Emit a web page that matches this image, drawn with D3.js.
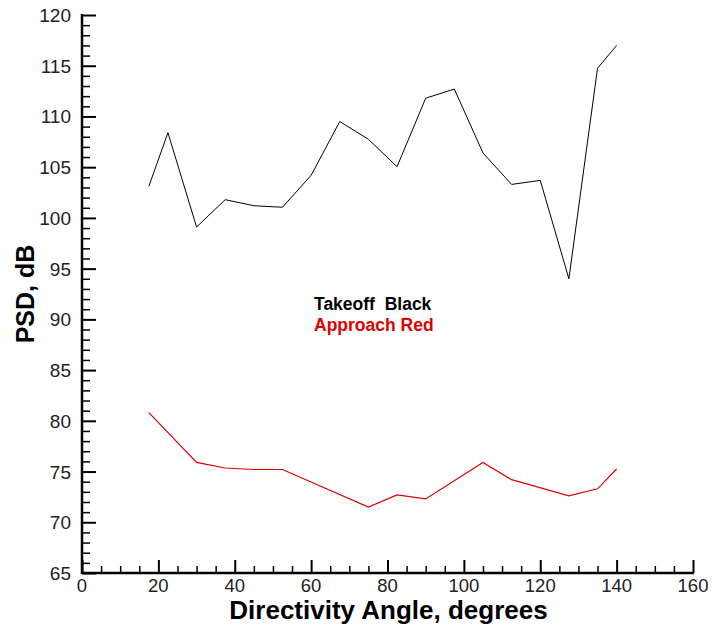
<!DOCTYPE html>
<html>
<head>
<meta charset="utf-8">
<script src="https://cdn.jsdelivr.net/npm/d3@7"></script>
<style>
  html, body { margin: 0; padding: 0; background: #fff; }
  svg { display: block; }
</style>
</head>
<body>
<svg id="chart" width="712" height="626"></svg>
<script>
// Directivity angles (degrees) for each measured point
const takeoffAngles  = [17.5, 22.5, 30, 37.5, 45, 52.5, 60, 67.5, 75, 82.5, 90, 97.5, 105, 112.5, 120, 127.5, 135, 140];
const takeoffPSD     = [103.1, 108.4, 99.1, 101.8, 101.2, 101.05, 104.2, 109.5, 107.75, 105.05, 111.8, 112.7, 106.4, 103.3, 103.7, 94.0, 114.75, 117.0];
const approachAngles = [17.5, 30, 37.5, 45, 52.5, 75, 82.5, 90, 105, 112.5, 127.5, 135, 140];
const approachPSD    = [80.8, 75.9, 75.35, 75.2, 75.2, 71.5, 72.7, 72.3, 75.9, 74.2, 72.6, 73.3, 75.25];

const xMajorTicks = [0, 20, 40, 60, 80, 100, 120, 140, 160];
const yMajorTicks = [65, 70, 75, 80, 85, 90, 95, 100, 105, 110, 115, 120];

const legendLines = [
  { text: "Takeoff  Black", color: "#000000" },
  { text: "Approach Red",   color: "#dd0000" }
];

const svg = d3.select("#chart");
const plotLeft = 82, plotRight = 693, plotTop = 15, plotBottom = 573;

const x = d3.scaleLinear().domain([0, 160]).range([plotLeft, plotRight]);
const y = d3.scaleLinear().domain([65, 120]).range([plotBottom, plotTop]);

const font = "'Liberation Sans', Arial, Helvetica, sans-serif";

// Minor ticks (every 5 degrees / every 1 dB), drawn inward
const xMinor = d3.range(0, 161, 5).filter(v => v % 20 !== 0);
const yMinor = d3.range(65, 121, 1).filter(v => v % 5 !== 0);

const xAxisMinor = d3.axisTop(x).tickValues(xMinor).tickSize(7).tickFormat("");
const yAxisMinor = d3.axisRight(y).tickValues(yMinor).tickSize(8).tickFormat("");
const xAxisMajor = d3.axisTop(x).tickValues(xMajorTicks).tickSize(13).tickFormat("");
const yAxisMajor = d3.axisRight(y).tickValues(yMajorTicks).tickSize(14).tickFormat("");

function styleAxis(g, w) {
  g.select(".domain").remove();
  g.selectAll(".tick line").attr("stroke", "#000").attr("stroke-width", w);
}

svg.append("g").attr("transform", `translate(0,${plotBottom})`).call(xAxisMinor).call(g => styleAxis(g, 1.5));
svg.append("g").attr("transform", `translate(${plotLeft},0)`).call(yAxisMinor).call(g => styleAxis(g, 1.5));
svg.append("g").attr("transform", `translate(0,${plotBottom})`).call(xAxisMajor).call(g => styleAxis(g, 2));
svg.append("g").attr("transform", `translate(${plotLeft},0)`).call(yAxisMajor).call(g => styleAxis(g, 2));

// Axis lines
svg.append("line").attr("x1", plotLeft).attr("x2", plotRight + 1).attr("y1", plotBottom).attr("y2", plotBottom)
  .attr("stroke", "#000").attr("stroke-width", 2.5);
svg.append("line").attr("x1", plotLeft).attr("x2", plotLeft).attr("y1", plotTop - 1).attr("y2", plotBottom + 1)
  .attr("stroke", "#000").attr("stroke-width", 2.5);

// Tick labels
svg.append("g").selectAll("text").data(xMajorTicks).join("text")
  .attr("x", d => x(d)).attr("y", 591.5)
  .attr("text-anchor", "middle")
  .attr("font-family", font).attr("font-size", 18.5).attr("fill", "#222")
  .text(d => d);

svg.append("g").selectAll("text").data(yMajorTicks).join("text")
  .attr("x", 71).attr("y", d => y(d) + 7)
  .attr("text-anchor", "end")
  .attr("font-family", font).attr("font-size", 19).attr("fill", "#222")
  .text(d => d);

// Axis titles
svg.append("text")
  .attr("x", (plotLeft + plotRight) / 2 + 1).attr("y", 619)
  .attr("text-anchor", "middle")
  .attr("font-family", font).attr("font-size", 26).attr("font-weight", "bold")
  .text("Directivity Angle, degrees");

svg.append("text")
  .attr("transform", `translate(34,${(plotTop + plotBottom) / 2}) rotate(-90)`)
  .attr("text-anchor", "middle")
  .attr("font-family", font).attr("font-size", 25).attr("font-weight", "bold")
  .text("PSD, dB");

// Data lines
const line = d3.line().x(d => x(d[0])).y(d => y(d[1]));

svg.append("path")
  .datum(d3.zip(takeoffAngles, takeoffPSD))
  .attr("d", line)
  .attr("fill", "none").attr("stroke", "#000").attr("stroke-width", 1);

svg.append("path")
  .datum(d3.zip(approachAngles, approachPSD))
  .attr("d", line)
  .attr("fill", "none").attr("stroke", "#dd0000").attr("stroke-width", 1.2);

// Legend text
svg.append("g").selectAll("text").data(legendLines).join("text")
  .attr("x", 314).attr("y", (d, i) => 310 + i * 21)
  .attr("font-family", font).attr("font-size", 17.5).attr("font-weight", "bold")
  .attr("fill", d => d.color)
  .attr("xml:space", "preserve").style("white-space", "pre")
  .text(d => d.text);
</script>
</body>
</html>
